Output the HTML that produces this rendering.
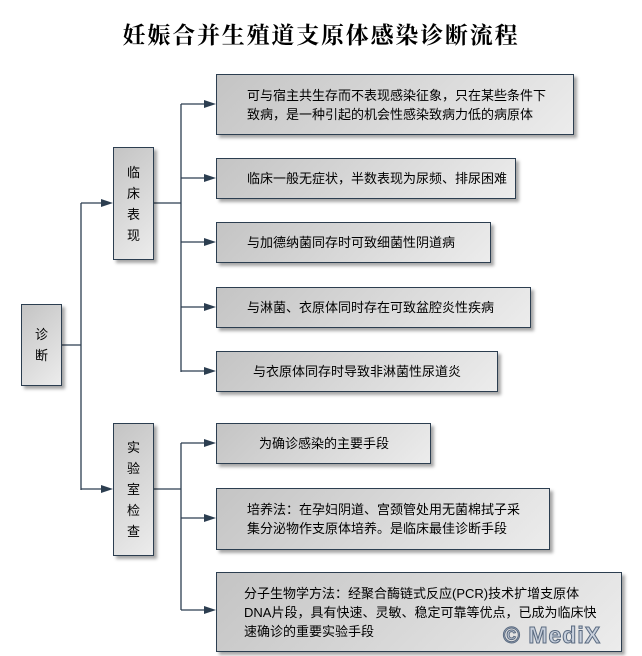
<!DOCTYPE html>
<html><head><meta charset="utf-8"><style>
body{margin:0;width:642px;height:656px;background:#fff;position:relative;overflow:hidden;font-family:"Liberation Sans","Noto Sans CJK SC",sans-serif;}
.t{position:absolute;left:0;width:642px;top:17px;text-align:center;font-family:"Liberation Serif","Noto Serif CJK SC",serif;font-weight:bold;font-size:23px;letter-spacing:1.8px;color:#000;}
.b{position:absolute;box-sizing:border-box;border:1px solid #2c3e50;background:linear-gradient(135deg,#c4c4c4,#ececec);box-shadow:3px 3px 3px rgba(0,0,0,.35);font-size:13px;color:#000;line-height:19px;white-space:nowrap;}
.v{display:flex;align-items:center;justify-content:center;text-align:center;line-height:21px;font-size:13px;}
.h{display:flex;align-items:center;padding-left:30px;}
</style></head><body>
<div class="t">妊娠合并生殖道支原体感染诊断流程</div>
<svg width="642" height="656" style="position:absolute;left:0;top:0">
<g stroke="#2c3e50" stroke-width="1.3" fill="none">
<path d="M61 345H81M81 203V490M81 203H106M81 489H106"/>
<path d="M153 203H181M181 104V372M181 104H210M181 178H210M181 242H210M181 307H210M181 371H210"/>
<path d="M153 489H181M181 443V610M181 443H210M181 518H210M181 610H210"/>
</g>
<g fill="#2c3e50">
<path d="M113 203l-12 -4v8z"/><path d="M113 489l-12 -4v8z"/>
<path d="M216 104l-12 -4v8z"/><path d="M216 178l-12 -4v8z"/><path d="M216 242l-12 -4v8z"/><path d="M216 307l-12 -4v8z"/><path d="M216 371l-12 -4v8z"/>
<path d="M216 443l-12 -4v8z"/><path d="M216 518l-12 -4v8z"/><path d="M216 610l-12 -4v8z"/>
</g></svg>
<div class="b v" style="left:21px;top:304px;width:41px;height:82px">诊<br>断</div>
<div class="b v" style="left:113px;top:147px;width:41px;height:113px">临<br>床<br>表<br>现</div>
<div class="b v" style="left:113px;top:423px;width:41px;height:133px">实<br>验<br>室<br>检<br>查</div>
<div class="b h" style="left:216px;top:74px;width:358px;height:61px">可与宿主共生存而不表现感染征象，只在某些条件下<br>致病，是一种引起的机会性感染致病力低的病原体</div>
<div class="b h" style="left:216px;top:158px;width:300px;height:41px">临床一般无症状，半数表现为尿频、排尿困难</div>
<div class="b h" style="left:216px;top:222px;width:275px;height:41px">与加德纳菌同存时可致细菌性阴道病</div>
<div class="b h" style="left:216px;top:287px;width:315px;height:41px">与淋菌、衣原体同时存在可致盆腔炎性疾病</div>
<div class="b h" style="left:216px;top:351px;width:282px;height:41px;padding-left:36px">与衣原体同存时导致非淋菌性尿道炎</div>
<div class="b h" style="left:216px;top:423px;width:215px;height:41px;padding-left:42px">为确诊感染的主要手段</div>
<div class="b h" style="left:216px;top:488px;width:334px;height:62px">培养法：在孕妇阴道、宫颈管处用无菌棉拭子采<br>集分泌物作支原体培养。是临床最佳诊断手段</div>
<div class="b h" style="left:216px;top:572px;width:406px;height:80px;padding-left:27px">分子生物学方法：经聚合酶链式反应(PCR)技术扩增支原体<br>DNA片段，具有快速、灵敏、稳定可靠等优点，已成为临床快<br>速确诊的重要实验手段</div>
<div style="position:absolute;left:503px;top:622px;font:bold 23px 'Liberation Sans',sans-serif;color:#c8d0dc;-webkit-text-stroke:1px #5a6a80;letter-spacing:1px">© MediX</div>
</body></html>
